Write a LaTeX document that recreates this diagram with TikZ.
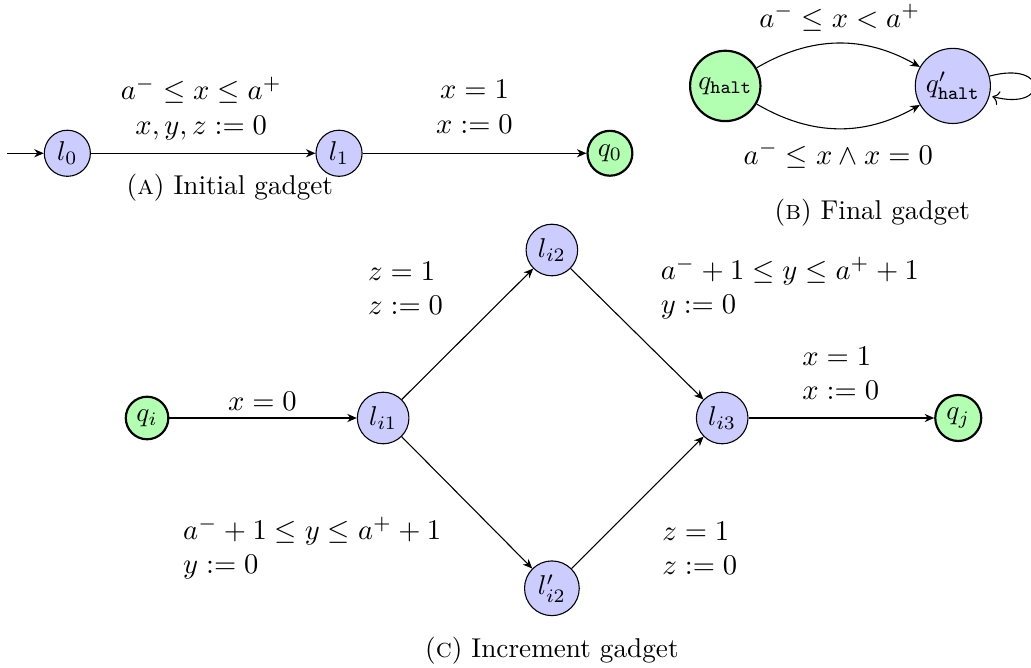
\documentclass[tikz,border=0pt]{standalone}
\usepackage{amsmath}
\usepackage{amssymb}
\usetikzlibrary{arrows.meta}

\tikzset{
	loc/.style={circle, draw, fill=blue!20, inner sep=2pt},
	goal/.style={circle, draw, thick, fill=green!30, inner sep=2pt},
	trans/.style={-{Stealth[length=3.5pt, width=3pt]}},
	guard/.style={scale=1.05},
	lbl/.style={guard, inner sep=0pt, align=left, anchor=west},
}

\begin{document}
\begin{tikzpicture}
			\useasboundingbox (0,0) rectangle (13.32,-8.62);
			
			% (a) Initial gadget
			\coordinate (init) at (0.09,-1.98);
			\node[loc] (l0) at (0.87,-1.98) {$l_0$};
			\node[loc] (l1) at (4.38,-1.98) {$l_1$};
			\node[goal] (q0) at (7.88,-1.98) {$q_0$};
			\draw[trans] (init) -- (l0);
			\draw[trans] (l0) -- (l1);
			\draw[trans] (l1) -- (q0);
			\node[guard, align=center] (g01) at (2.60,-1.40) {$a^- \le x \le a^+$\\$x,y,z := 0$};
			\node[guard, align=center] (g1q) at (6.13,-1.38) {$x = 1$\\$x := 0$};
			\node (capa) at (2.97,-2.42) {(\textsc{a}) Initial gadget};
			
			% (b) Final gadget
			\node[goal] (qhalt) at (9.37,-1.11) {$q_{\mathtt{halt}}$};
			\node[loc] (qhaltp) at (12.31,-1.11) {$q'_{\mathtt{halt}}$};
			\draw[trans] (qhalt) to[bend left=30] (qhaltp);
			\draw[trans] (qhalt) to[bend right=30] (qhaltp);
			\path[trans] (qhaltp) edge[loop right] ();
			\node[guard] (gup) at (10.85,-0.23) {$a^- \le x < a^+$};
			\node[guard] (gdown) at (10.83,-2.00) {$a^- \le x \land x = 0$};
			\node (capb) at (11.27,-2.75) {(\textsc{b}) Final gadget};
			
			% (c) Increment gadget
			\node[goal] (qi) at (1.90,-5.40) {$q_i$};
			\node[loc] (li1) at (4.95,-5.40) {$l_{i1}$};
			\node[loc] (li2) at (7.13,-3.23) {$l_{i2}$};
			\node[loc] (li2p) at (7.13,-7.60) {$l'_{i2}$};
			\node[loc] (li3) at (9.33,-5.40) {$l_{i3}$};
			\node[goal] (qj) at (12.38,-5.40) {$q_j$};
			\draw[trans] (qi) -- (li1);
			\draw[trans] (li1) -- (li2);
			\draw[trans] (li1) -- (li2p);
			\draw[trans] (li2) -- (li3);
			\draw[trans] (li2p) -- (li3);
			\draw[trans] (li3) -- (qj);
			\node[guard] (gx0) at (3.39,-5.19) {$x = 0$};
			\node[lbl] (gz1) at (4.75,-3.72) {$z = 1$\\$z := 0$};
			\node[lbl] (gy1) at (8.53,-3.72) {$a^- + 1 \le y \le a^+ + 1$\\$y := 0$};
			\node[lbl] (gx1) at (10.36,-4.82) {$x = 1$\\$x := 0$};
			\node[lbl] (gy2) at (2.36,-7.08) {$a^- + 1 \le y \le a^+ + 1$\\$y := 0$};
			\node[lbl] (gz2) at (8.55,-7.08) {$z = 1$\\$z := 0$};
			\node (capc) at (7.13,-8.41) {(\textsc{c}) Increment gadget};
		\end{tikzpicture}
\end{document}
